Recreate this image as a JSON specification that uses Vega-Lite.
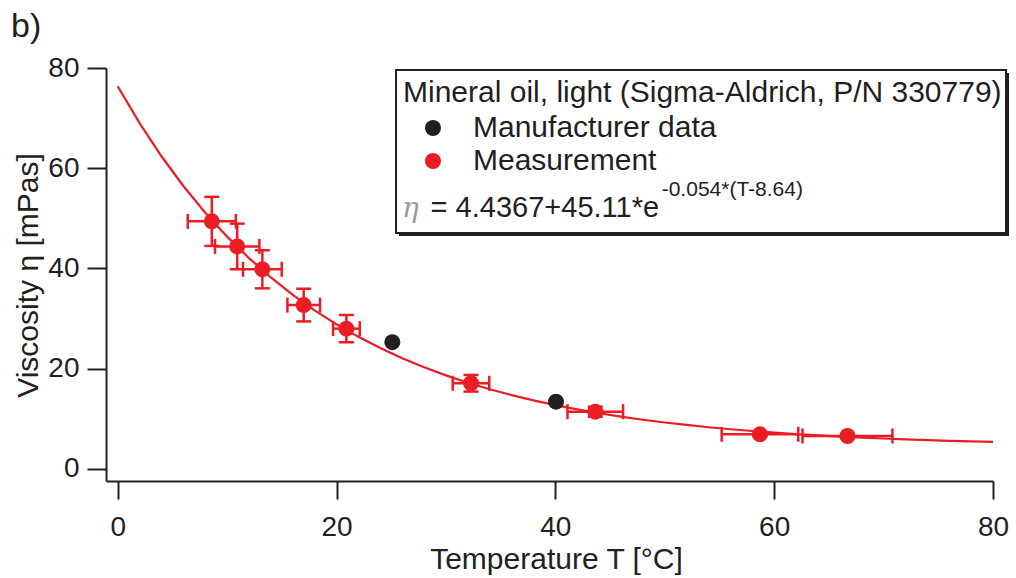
{
  "$schema": "https://vega.github.io/schema/vega-lite/v6.json",
  "width": 887,
  "height": 413,
  "autosize": {"type": "none"},
  "padding": {"left": 106, "top": 68, "right": 23, "bottom": 97},
  "background": "white",
  "title": {"text": "b)", "anchor": "start", "frame": "group", "fontSize": 34, "font": "Liberation Sans", "fontWeight": "normal", "color": "#231F20", "dx": -95, "dy": 27, "offset": 10, "baseline": "alphabetic"},
  "config": {
    "view": {"stroke": null},
    "axis": {"grid": false, "domainColor": "#231F20", "domainWidth": 2, "tickColor": "#231F20", "tickWidth": 2, "labelFont": "Liberation Sans", "labelFontSize": 28, "labelColor": "#231F20", "titleFont": "Liberation Sans", "titleFontSize": 30, "titleFontWeight": "normal", "titleColor": "#231F20", "labelFlush": false, "labelOverlap": false, "labelBound": false}
  },
  "datasets": {
    "curve": [
      {"T": 0, "eta": 76.37}, {"T": 2, "eta": 69.0}, {"T": 4, "eta": 62.39}, {"T": 6, "eta": 56.46}, {"T": 8, "eta": 51.13},
      {"T": 10, "eta": 46.35}, {"T": 12, "eta": 42.06}, {"T": 14, "eta": 38.21}, {"T": 16, "eta": 34.75}, {"T": 18, "eta": 31.65},
      {"T": 20, "eta": 28.86}, {"T": 22, "eta": 26.36}, {"T": 24, "eta": 24.12}, {"T": 26, "eta": 22.1}, {"T": 28, "eta": 20.3},
      {"T": 30, "eta": 18.67}, {"T": 32, "eta": 17.21}, {"T": 34, "eta": 15.91}, {"T": 36, "eta": 14.73}, {"T": 38, "eta": 13.68},
      {"T": 40, "eta": 12.73}, {"T": 42, "eta": 11.88}, {"T": 44, "eta": 11.12}, {"T": 46, "eta": 10.44}, {"T": 48, "eta": 9.82},
      {"T": 50, "eta": 9.27}, {"T": 52, "eta": 8.78}, {"T": 54, "eta": 8.33}, {"T": 56, "eta": 7.93}, {"T": 58, "eta": 7.58},
      {"T": 60, "eta": 7.25}, {"T": 62, "eta": 6.97}, {"T": 64, "eta": 6.71}, {"T": 66, "eta": 6.47}, {"T": 68, "eta": 6.27},
      {"T": 70, "eta": 6.08}, {"T": 72, "eta": 5.91}, {"T": 74, "eta": 5.76}, {"T": 76, "eta": 5.62}, {"T": 78, "eta": 5.5},
      {"T": 80, "eta": 5.39}
    ],
    "obs": [
      {"source": "Measurement", "T": 8.6, "eta": 49.4, "dT": 2.2, "deta": 4.9},
      {"source": "Measurement", "T": 10.92, "eta": 44.4, "dT": 2.03, "deta": 4.55},
      {"source": "Measurement", "T": 13.22, "eta": 39.84, "dT": 1.77, "deta": 3.8},
      {"source": "Measurement", "T": 17.0, "eta": 32.7, "dT": 1.49, "deta": 3.26},
      {"source": "Measurement", "T": 20.9, "eta": 28.0, "dT": 1.22, "deta": 2.72},
      {"source": "Measurement", "T": 32.29, "eta": 17.1, "dT": 1.67, "deta": 1.66},
      {"source": "Measurement", "T": 43.65, "eta": 11.43, "dT": 2.54, "deta": 1.0},
      {"source": "Measurement", "T": 58.7, "eta": 6.92, "dT": 3.5, "deta": 0.4},
      {"source": "Measurement", "T": 66.7, "eta": 6.58, "dT": 4.11, "deta": 0.4},
      {"source": "Manufacturer data", "T": 25.1, "eta": 25.3},
      {"source": "Manufacturer data", "T": 40.06, "eta": 13.43}
    ],
    "one": [{"k": 1}]
  },
  "layer": [
    {
      "data": {"name": "one"},
      "mark": {"type": "rect", "fill": "#231F20", "xOffset": 3, "x2Offset": 3, "yOffset": 3, "y2Offset": 3},
      "encoding": {
        "x": {"datum": 25.44, "type": "quantitative"},
        "x2": {"datum": 81.19},
        "y": {"datum": 79.6, "type": "quantitative"},
        "y2": {"datum": 47.08}
      }
    },
    {
      "data": {"name": "one"},
      "mark": {"type": "rect", "fill": "white", "stroke": "#231F20", "strokeWidth": 2},
      "encoding": {
        "x": {"datum": 25.44, "type": "quantitative"},
        "x2": {"datum": 81.19},
        "y": {"datum": 79.6, "type": "quantitative"},
        "y2": {"datum": 47.08}
      }
    },
    {
      "data": {"name": "curve"},
      "mark": {"type": "line", "color": "#EC1C24", "strokeWidth": 2.2},
      "encoding": {
        "x": {"field": "T", "type": "quantitative", "title": "Temperature T [°C]",
              "scale": {"domain": [-1.07, 80], "nice": false, "zero": false},
              "axis": {"values": [0, 20, 40, 60, 80], "tickSize": 18, "labelPadding": 14, "titleX": 450, "titleY": 87, "titleBaseline": "alphabetic", "titleAlign": "center", "titleFontSize": 30}},
        "y": {"field": "eta", "type": "quantitative", "title": "Viscosity η [mPas]",
              "scale": {"domain": [-2.4, 80], "nice": false, "zero": false},
              "axis": {"values": [0, 20, 40, 60, 80], "tickSize": 19, "labelPadding": 8, "titleX": -69, "titleY": 207, "titleBaseline": "alphabetic", "titleAlign": "center", "titleAngle": -90}}
      }
    },
    {
      "data": {"name": "obs"},
      "transform": [{"filter": "datum.source === 'Measurement'"}],
      "mark": {"type": "errorbar", "color": "#EC1C24", "thickness": 2.5, "opacity": 1, "rule": {"strokeWidth": 2.5, "opacity": 1}, "ticks": {"size": 15, "thickness": 2.5, "opacity": 1}},
      "encoding": {
        "x": {"field": "T", "type": "quantitative", "title": "Temperature T [°C]"},
        "y": {"field": "eta", "type": "quantitative", "title": "Viscosity η [mPas]"},
        "yError": {"field": "deta"}
      }
    },
    {
      "data": {"name": "obs"},
      "transform": [{"filter": "datum.source === 'Measurement'"}],
      "mark": {"type": "errorbar", "color": "#EC1C24", "thickness": 2.5, "opacity": 1, "rule": {"strokeWidth": 2.5, "opacity": 1}, "ticks": {"size": 15, "thickness": 2.5, "opacity": 1}},
      "encoding": {
        "y": {"field": "eta", "type": "quantitative", "title": "Viscosity η [mPas]"},
        "x": {"field": "T", "type": "quantitative", "title": "Temperature T [°C]"},
        "xError": {"field": "dT"}
      }
    },
    {
      "data": {"name": "obs"},
      "mark": {"type": "circle", "size": 256, "opacity": 1},
      "encoding": {
        "x": {"field": "T", "type": "quantitative", "title": "Temperature T [°C]"},
        "y": {"field": "eta", "type": "quantitative", "title": "Viscosity η [mPas]"},
        "color": {"field": "source", "type": "nominal",
          "scale": {"domain": ["Manufacturer data", "Measurement"], "range": ["#231F20", "#EC1C24"]},
          "legend": {"orient": "none", "legendX": 297, "legendY": 10, "padding": 0,
            "title": "Mineral oil, light (Sigma-Aldrich, P/N 330779)",
            "titleFont": "Liberation Sans", "titleFontSize": 30, "titleFontWeight": "normal", "titleColor": "#231F20", "titleLimit": 1000, "titlePadding": 5,
            "labelFont": "Liberation Sans", "labelFontSize": 30, "labelColor": "#231F20", "labelLimit": 1000, "labelOffset": 25,
            "symbolType": "circle", "symbolSize": 256, "symbolOffset": 15, "symbolStrokeWidth": 0, "symbolOpacity": 1, "rowPadding": 3}}
      }
    },
    {
      "data": {"name": "one"},
      "mark": {"type": "text", "text": "η", "font": "DejaVu Serif", "fontStyle": "italic", "fontSize": 28, "color": "#9a9a9a", "align": "left", "baseline": "alphabetic"},
      "encoding": {"x": {"datum": 25.98, "type": "quantitative"}, "y": {"datum": 50.27, "type": "quantitative"}}
    },
    {
      "data": {"name": "one"},
      "mark": {"type": "text", "text": "= 4.4367+45.11*e", "font": "Liberation Sans", "fontSize": 29, "color": "#231F20", "align": "left", "baseline": "alphabetic"},
      "encoding": {"x": {"datum": 28.6, "type": "quantitative"}, "y": {"datum": 50.27, "type": "quantitative"}}
    },
    {
      "data": {"name": "one"},
      "mark": {"type": "text", "text": "-0.054*(T-8.64)", "font": "Liberation Sans", "fontSize": 21, "color": "#231F20", "align": "left", "baseline": "alphabetic"},
      "encoding": {"x": {"datum": 49.72, "type": "quantitative"}, "y": {"datum": 54.46, "type": "quantitative"}}
    }
  ]
}
